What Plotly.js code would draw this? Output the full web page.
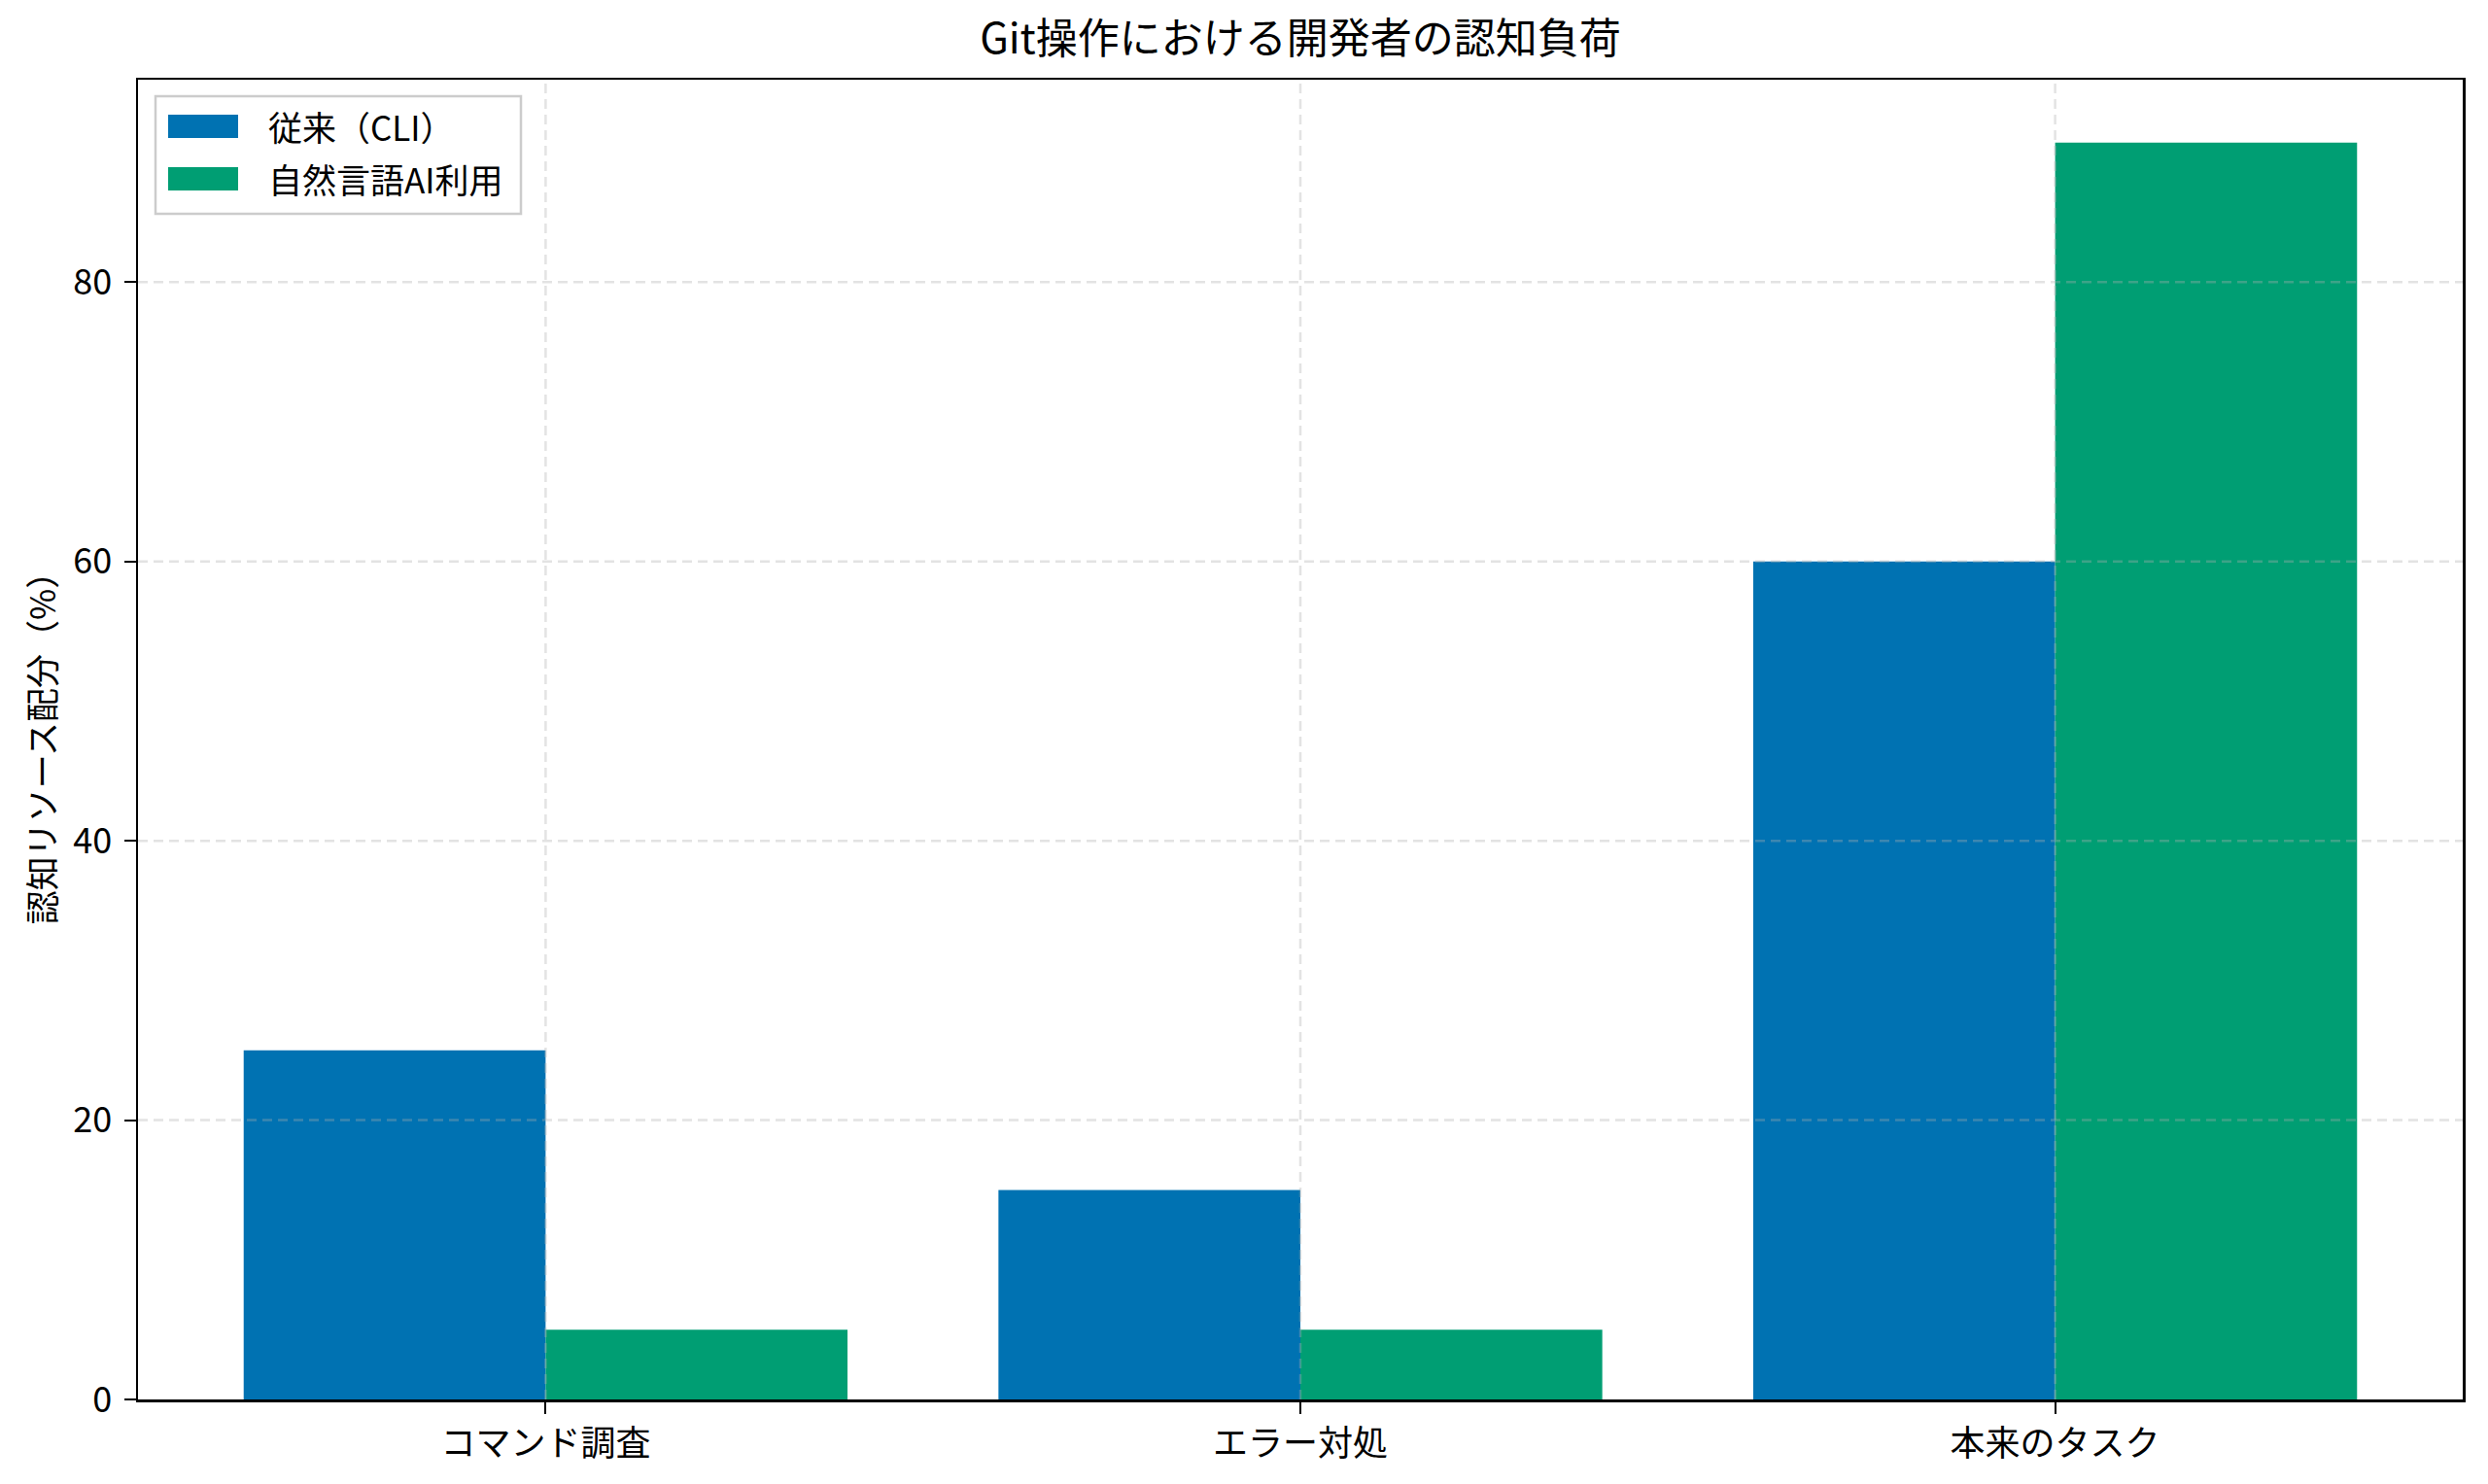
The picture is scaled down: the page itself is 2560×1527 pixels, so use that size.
<!DOCTYPE html>
<html>
<head>
<meta charset="utf-8">
<script src="https://cdn.plot.ly/plotly-3.0.1.min.js"></script>
<style>
  body { margin: 0; background: #fff; }
  #chart { width: 2560px; height: 1527px; }
</style>
</head>
<body>
<div id="chart"></div>
<script>
// data
var categories = ['コマンド調査', 'エラー対処', '本来のタスク'];
var seriesNames = ['従来（CLI）', '自然言語AI利用'];
var cliValues = [25, 15, 60];
var aiValues = [5, 5, 90];
var yTicks = [0, 20, 40, 60, 80];
var barColors = ['#0072B2', '#009E73'];

var W = 2560, H = 1527;
var marg = {l: 142, r: 26, t: 82, b: 87};
var plotW = W - marg.l - marg.r;
var plotH = H - marg.t - marg.b;
var FONT = '"Noto Sans CJK JP", "Noto Sans", sans-serif';

// pixel -> paper helpers (for the hand made legend)
function px(x){ return (x - marg.l) / plotW; }
function py(y){ return 1 - (y - marg.t) / plotH; }

var data = [
  {type: 'bar', name: seriesNames[0], x: categories, y: cliValues,
   marker: {color: barColors[0], line: {width: 0}}},
  {type: 'bar', name: seriesNames[1], x: categories, y: aiValues,
   marker: {color: barColors[1], line: {width: 0}}}
];

var gridLine = {color: 'rgba(176,176,176,0.35)', width: 2.5, dash: '10px,6px'};
var shapes = [];
// grid drawn over the bars like matplotlib does
yTicks.forEach(function(v){
  if (v === 0) return;
  shapes.push({type: 'line', layer: 'above', xref: 'paper', yref: 'y',
    x0: 0, x1: 1, y0: v, y1: v, line: gridLine});
});
categories.forEach(function(c, i){
  shapes.push({type: 'line', layer: 'above', xref: 'x', yref: 'paper',
    x0: i, x1: i, y0: 0, y1: 1, line: gridLine});
});

// legend box
shapes.push({type: 'rect', layer: 'above', xref: 'paper', yref: 'paper',
  x0: px(160), x1: px(536), y0: py(99), y1: py(220),
  line: {color: '#cccccc', width: 2.5}, fillcolor: 'rgba(255,255,255,0.85)'});
var rowY = [130, 184];
var annotations = [];
seriesNames.forEach(function(n, i){
  shapes.push({type: 'rect', layer: 'above', xref: 'paper', yref: 'paper',
    x0: px(173), x1: px(245), y0: py(rowY[i] - 12), y1: py(rowY[i] + 12),
    line: {width: 0}, fillcolor: barColors[i]});
  annotations.push({xref: 'paper', yref: 'paper', x: px(274), y: py(rowY[i]),
    xanchor: 'left', yanchor: 'middle', showarrow: false, text: n,
    font: {family: FONT, size: 35, color: '#000'}});
});

var layout = {
  width: W, height: H,
  margin: marg,
  paper_bgcolor: '#fff',
  plot_bgcolor: '#fff',
  showlegend: false,
  barmode: 'group',
  bargap: 0.2,
  bargroupgap: 0,
  font: {family: FONT, size: 35, color: '#000'},
  title: {
    text: 'Git操作における開発者の認知負荷',
    font: {family: FONT, size: 43, color: '#000'},
    xref: 'paper', x: 0.5, xanchor: 'center',
    yref: 'container', y: 1 - 40 / H, yanchor: 'middle'
  },
  xaxis: {
    type: 'category',
    range: [-0.54, 2.54],
    showgrid: false,
    zeroline: false,
    showline: true, mirror: true, linecolor: '#000', linewidth: 2.5,
    ticks: 'outside', ticklen: 12, tickwidth: 2, tickcolor: '#000',
    ticklabelstandoff: 0,
    tickfont: {family: FONT, size: 36, color: '#000'},
    automargin: false
  },
  yaxis: {
    range: [0, 94.5],
    tickvals: yTicks,
    showgrid: false,
    zeroline: false,
    showline: true, mirror: true, linecolor: '#000', linewidth: 2.5,
    ticks: 'outside', ticklen: 12, tickwidth: 2, tickcolor: '#000',
    ticklabelstandoff: 5,
    tickfont: {family: FONT, size: 36, color: '#000'},
    title: {text: '認知リソース配分（%）', standoff: 7,
            font: {family: FONT, size: 35, color: '#000'}},
    automargin: false
  },
  shapes: shapes,
  annotations: annotations
};

Plotly.newPlot('chart', data, layout, {displayModeBar: false, staticPlot: true});
</script>
</body>
</html>
